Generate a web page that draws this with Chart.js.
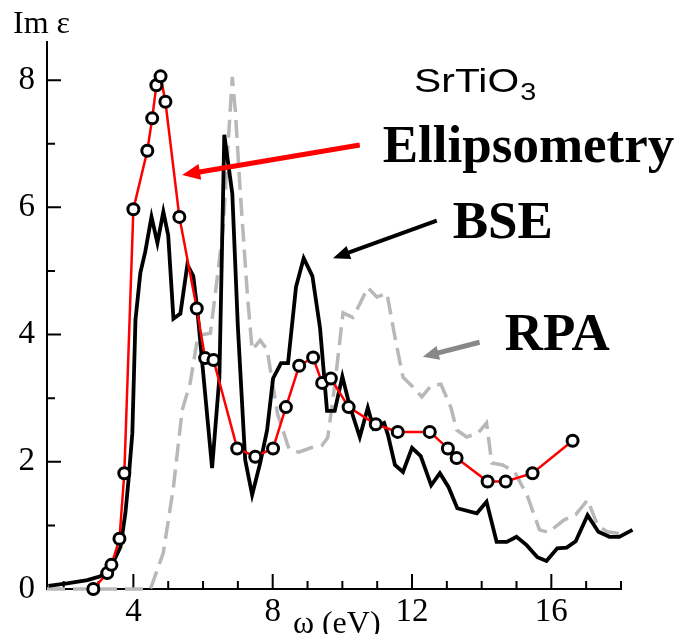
<!DOCTYPE html>
<html><head><meta charset="utf-8">
<script src="https://cdn.jsdelivr.net/npm/chart.js@4/dist/chart.umd.min.js"></script>
<style>html,body{margin:0;padding:0;background:#fff;}canvas{display:block;}</style>
</head><body>
<canvas id="c" width="678" height="634"></canvas>
<script>
// ---- data ----
const ellipsX = [2.85, 3.25, 3.37, 3.6, 3.74, 4.0, 4.4, 4.54, 4.66, 4.78, 4.92, 5.32, 5.82, 6.06, 6.3, 6.98, 7.5, 8.01, 8.38, 8.76, 9.16, 9.42, 9.67, 10.18, 10.96, 11.59, 12.51, 13.03, 13.28, 14.17, 14.69, 15.46, 16.61];
const ellipsY = [0.0, 0.25, 0.38, 0.79, 1.82, 5.97, 6.89, 7.4, 7.92, 8.06, 7.66, 5.85, 4.41, 3.63, 3.6, 2.21, 2.08, 2.21, 2.86, 3.51, 3.64, 3.24, 3.31, 2.86, 2.59, 2.47, 2.47, 2.21, 2.06, 1.69, 1.69, 1.82, 2.33];

const bseX = [1.56, 2.1, 2.68, 3.05, 3.34, 3.63, 3.77, 3.86, 3.97, 4.06, 4.2, 4.34, 4.52, 4.69, 4.86, 5.0, 5.15, 5.35, 5.55, 5.72, 5.83, 6.26, 6.47, 6.61, 6.84, 7.0, 7.21, 7.41, 7.64, 7.84, 8.01, 8.24, 8.44, 8.67, 8.89, 9.14, 9.36, 9.56, 9.78, 10.0, 10.2, 10.5, 10.73, 10.9, 11.2, 11.31, 11.51, 11.74, 12.0, 12.25, 12.55, 12.8, 13.05, 13.3, 13.86, 14.14, 14.43, 14.72, 15.0, 15.29, 15.6, 15.86, 16.17, 16.44, 16.7, 17.04, 17.35, 17.67, 17.95, 18.33];
const bseY = [0.05, 0.09, 0.14, 0.2, 0.33, 0.66, 1.19, 1.71, 2.45, 4.23, 4.97, 5.3, 5.85, 5.44, 5.93, 5.56, 4.25, 4.33, 5.1, 4.92, 4.42, 1.9, 3.33, 7.14, 6.22, 4.12, 2.03, 1.48, 1.98, 2.5, 3.31, 3.55, 3.55, 4.75, 5.2, 4.92, 4.1, 2.8, 2.8, 3.34, 2.9, 2.39, 2.85, 2.52, 2.61, 2.42, 1.95, 1.84, 2.22, 2.09, 1.63, 1.82, 1.6, 1.27, 1.19, 1.37, 0.74, 0.74, 0.82, 0.69, 0.5, 0.44, 0.64, 0.65, 0.75, 1.16, 0.9, 0.82, 0.82, 0.93];

const rpaX = [1.52, 4.49, 4.86, 5.15, 5.4, 5.63, 5.86, 6.0, 6.21, 6.41, 6.58, 6.72, 6.84, 6.93, 7.07, 7.27, 7.41, 7.64, 7.84, 8.14, 8.47, 8.75, 9.1, 9.42, 9.58, 9.78, 10.02, 10.3, 10.5, 10.73, 10.99, 11.28, 11.51, 11.74, 12.02, 12.28, 12.55, 12.83, 13.12, 13.28, 13.57, 13.89, 14.14, 14.29, 14.6, 14.95, 15.32, 15.66, 15.92, 16.35, 16.7, 17.04, 17.33, 17.6, 17.95];
const rpaY = [0, 0, 0.57, 1.6, 2.81, 3.24, 4.0, 4.0, 4.02, 4.9, 5.69, 7.0, 8.05, 7.5, 6.23, 4.65, 3.76, 3.91, 3.76, 2.75, 2.2, 2.15, 2.22, 2.26, 2.38, 3.2, 4.34, 4.27, 4.48, 4.74, 4.59, 4.65, 3.96, 3.33, 3.18, 3.02, 3.2, 3.22, 2.85, 2.5, 2.39, 2.45, 2.61, 1.98, 1.95, 1.84, 1.45, 0.93, 0.89, 1.08, 1.17, 1.4, 1.0, 0.9, 0.87];

const xTickLabels = [4, 8, 12, 16];
const yTickLabels = [0, 2, 4, 6, 8];
const seriesNames = ['Ellipsometry', 'BSE', 'RPA'];

function pts(xs, ys) { return xs.map((x, i) => ({ x: x, y: ys[i] })); }

const SERIF = '"Liberation Serif", "Times New Roman", serif';
const SANS = '"Liberation Sans", Arial, sans-serif';

const decor = {
  id: 'decor',
  beforeDatasetsDraw(chart) {
    const { ctx, scales: { x, y }, chartArea: a } = chart;
    ctx.save();
    ctx.strokeStyle = '#000';
    ctx.lineWidth = 2;
    ctx.beginPath();
    x.ticks.forEach(t => {
      const px = x.getPixelForValue(t.value);
      const len = xTickLabels.includes(t.value) ? 15 : 8;
      ctx.moveTo(px, a.bottom); ctx.lineTo(px, a.bottom - len);
    });
    y.ticks.forEach(t => {
      const py = y.getPixelForValue(t.value);
      const len = yTickLabels.includes(t.value) ? 14 : 8;
      ctx.moveTo(a.left, py); ctx.lineTo(a.left + len, py);
    });
    ctx.stroke();
    ctx.restore();
  },
  afterDatasetsDraw(chart) {
    const { ctx, scales: { x, y }, chartArea: a } = chart;
    const P = (vx, vy) => [x.getPixelForValue(vx), y.getPixelForValue(vy)];
    function arrow(t, h, color, w, hl, hw) {
      const [x0, y0] = P(t[0], t[1]);
      const [x1, y1] = P(h[0], h[1]);
      const ang = Math.atan2(y1 - y0, x1 - x0);
      const bx = x1 - Math.cos(ang) * hl, by = y1 - Math.sin(ang) * hl;
      ctx.save();
      ctx.strokeStyle = color; ctx.fillStyle = color; ctx.lineWidth = w;
      ctx.beginPath(); ctx.moveTo(x0, y0); ctx.lineTo(bx + Math.cos(ang) * 2, by + Math.sin(ang) * 2); ctx.stroke();
      ctx.beginPath();
      ctx.moveTo(x1, y1);
      ctx.lineTo(bx + Math.sin(ang) * hw, by - Math.cos(ang) * hw);
      ctx.lineTo(bx - Math.sin(ang) * hw, by + Math.cos(ang) * hw);
      ctx.closePath(); ctx.fill();
      ctx.restore();
    }
    arrow([10.5, 6.98], [5.4, 6.51], '#ff0000', 5, 18, 8);
    arrow([12.71, 5.79], [9.73, 5.2], '#000000', 4, 17, 7);
    arrow([13.94, 3.88], [12.31, 3.65], '#888888', 5, 16, 7);

    ctx.save();
    ctx.fillStyle = '#000';
    ctx.textBaseline = 'alphabetic';
    ctx.textAlign = 'left';
    ctx.font = 'bold 53px ' + SERIF;
    let p = P(11.16, 6.71); ctx.fillText(seriesNames[0], p[0], p[1]);
    p = P(13.17, 5.52); ctx.fillText(seriesNames[1], p[0], p[1]);
    p = P(14.66, 3.76); ctx.fillText(seriesNames[2], p[0], p[1]);

    // SrTiO3
    p = P(12.06, 7.82);
    ctx.save();
    ctx.translate(p[0], p[1]);
    ctx.scale(1.2, 1);
    ctx.font = '34px ' + SANS;
    ctx.fillText('SrTiO', 0, 0);
    const wS = ctx.measureText('SrTiO').width;
    ctx.font = '24px ' + SANS;
    ctx.fillText('3', wS + 1, 8);
    ctx.restore();

    // axis titles
    ctx.font = '32px ' + SERIF;
    ctx.fillText('Im \u03b5', a.left - 34, a.top - 9);
    ctx.fillText('\u03c9 (eV)', x.getPixelForValue(8.58), a.bottom + 44);
    ctx.restore();
  }
};

new Chart(document.getElementById('c'), {
  type: 'line',
  data: {
    datasets: [
      {
        label: seriesNames[0], data: pts(ellipsX, ellipsY), order: 0,
        borderColor: '#ff0000', borderWidth: 2.5, tension: 0,
        pointRadius: 5.5, pointBorderWidth: 3, pointBorderColor: '#000', pointBackgroundColor: '#fff',
        clip: false
      },
      {
        label: seriesNames[1], data: pts(bseX, bseY), order: 1,
        borderColor: '#000000', borderWidth: 3.8, tension: 0, pointRadius: 0,
        borderJoinStyle: 'miter', clip: false
      },
      {
        label: seriesNames[2], data: pts(rpaX, rpaY), order: 2,
        borderColor: '#b8b8b8', borderWidth: 3.5, tension: 0, pointRadius: 0,
        borderDash: [18, 8], clip: false
      }
    ]
  },
  options: {
    responsive: false,
    animation: false,
    devicePixelRatio: 1,
    layout: { padding: { left: 0, top: 42, right: 57, bottom: 0 } },
    plugins: { legend: { display: false }, tooltip: { enabled: false } },
    scales: {
      x: {
        type: 'linear', min: 1.52, max: 18,
        grid: { display: false, drawTicks: false },
        border: { display: true, color: '#000', width: 2 },
        ticks: {
          stepSize: 1, includeBounds: false, autoSkip: false, maxRotation: 0,
          padding: 4, color: '#000', font: { family: SERIF, size: 33 },
          callback: v => xTickLabels.includes(v) ? String(v) : ''
        },
        afterFit: s => { s.height = 45; }
      },
      y: {
        type: 'linear', min: 0, max: 8.6,
        grid: { display: false, drawTicks: false },
        border: { display: true, color: '#000', width: 2 },
        ticks: {
          stepSize: 1, includeBounds: false, autoSkip: false,
          padding: 12, color: '#000', font: { family: SERIF, size: 33 },
          callback: v => yTickLabels.includes(v) ? String(v) : ''
        },
        afterFit: s => { s.width = 47; }
      }
    }
  },
  plugins: [decor]
});
</script>
</body></html>
